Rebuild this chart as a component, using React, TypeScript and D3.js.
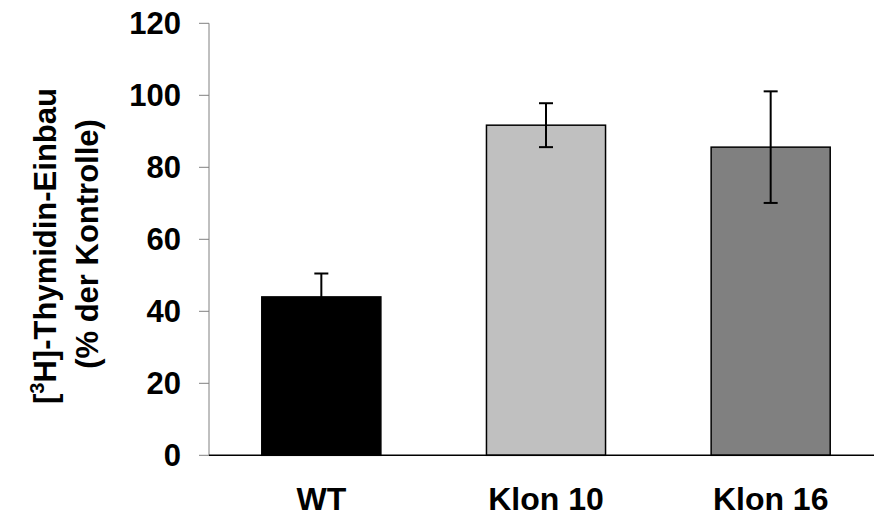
import React from "react";
import * as d3 from "d3";

// Thymidine incorporation per cell line, % of control
const categories = ["WT", "Klon 10", "Klon 16"];
const means = [44, 91.7, 85.6];
const errors = [6.5, 6.1, 15.5];
const fills = ["#000000", "#c0c0c0", "#808080"];
const yTicks = [0, 20, 40, 60, 80, 100, 120];

const W = 874;
const H = 517;
const FONT = "'Liberation Sans', Arial, Helvetica, sans-serif";

export default function App() {
  const x = d3
    .scaleBand<string>()
    .domain(categories)
    .range([209, 883])
    .paddingInner(0.47)
    .paddingOuter(0.235);
  const y = d3.scaleLinear().domain([0, 120]).range([455.3, 23.3]);

  const axisX = 209;
  const capHalf = 7;

  return (
    <svg
      width={W}
      height={H}
      style={{ position: "absolute", left: 0, top: 0, background: "#fff" }}
      fontFamily={FONT}
      fontWeight="bold"
    >
      <rect x={0} y={0} width={W} height={H} fill="#ffffff" />

      {/* bars */}
      {categories.map((c, i) => (
        <rect
          key={c}
          x={x(c)!}
          y={y(means[i])}
          width={x.bandwidth()}
          height={y(0) - y(means[i])}
          fill={fills[i]}
          stroke="#000"
          strokeWidth={1.5}
        />
      ))}

      {/* error bars */}
      {categories.map((c, i) => {
        const cx = x(c)! + x.bandwidth() / 2;
        const hi = y(means[i] + errors[i]);
        const lo = y(means[i] - errors[i]);
        return (
          <g key={c} stroke="#000" strokeWidth={2}>
            <line x1={cx} x2={cx} y1={hi} y2={lo} />
            <line x1={cx - capHalf} x2={cx + capHalf} y1={hi} y2={hi} />
            <line x1={cx - capHalf} x2={cx + capHalf} y1={lo} y2={lo} />
          </g>
        );
      })}

      {/* y axis */}
      <line x1={axisX} x2={axisX} y1={y(120)} y2={y(0)} stroke="#808080" strokeWidth={1} />
      {yTicks.map((t) => (
        <g key={t}>
          <line x1={axisX - 10} x2={axisX} y1={y(t)} y2={y(t)} stroke="#808080" strokeWidth={1} />
          <text
            x={181}
            y={y(t)}
            dy="0.36em"
            textAnchor="end"
            fontSize={31}
            fill="#000"
          >
            {t}
          </text>
        </g>
      ))}

      {/* x axis */}
      <line x1={axisX} x2={W} y1={y(0)} y2={y(0)} stroke="#000" strokeWidth={1.5} />
      {categories.map((c) => (
        <text
          key={c}
          x={x(c)! + x.bandwidth() / 2}
          y={510}
          textAnchor="middle"
          fontSize={32}
          fill="#000"
        >
          {c}
        </text>
      ))}

      {/* y axis title */}
      <g transform="translate(56,246) rotate(-90)">
        <text x={0} y={0} textAnchor="middle" fontSize={31} fill="#000">
          <tspan>[</tspan>
          <tspan dy={-12} fontSize={20}>3</tspan>
          <tspan dy={12}>H]-Thymidin-Einbau</tspan>
        </text>
      </g>
      <g transform="translate(98,244) rotate(-90)">
        <text x={0} y={0} textAnchor="middle" fontSize={31} fill="#000">
          (% der Kontrolle)
        </text>
      </g>
    </svg>
  );
}
